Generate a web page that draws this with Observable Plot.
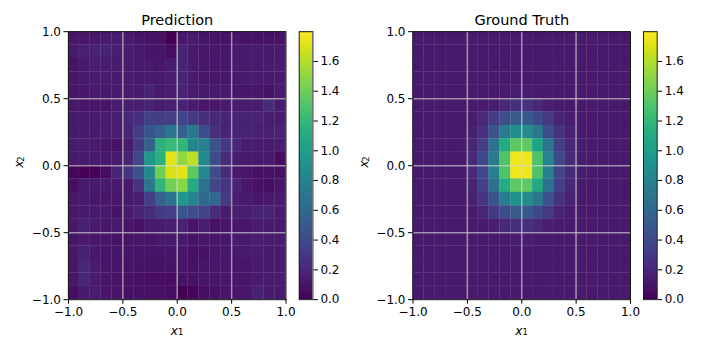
<!DOCTYPE html>
<html><head><meta charset="utf-8">
<script src="https://cdn.jsdelivr.net/npm/d3@7"></script>
<script src="https://cdn.jsdelivr.net/npm/@observablehq/plot@0.6"></script>
<style>
html,body{margin:0;padding:0;background:#fff}
#fig{position:relative;width:702px;height:351px;overflow:hidden;background:#fff}
#fig svg{position:absolute;top:0;overflow:visible;background:transparent}
</style></head><body><div id="fig"></div>
<script>
const predictionValues = [
[.10,.11,.11,.13,.14,.12,.10,.09,.08,.00,.11,.13,.10,.09,.09,.10,.09,.09,.08,.09],
[.12,.16,.17,.17,.15,.13,.12,.10,.10,.06,.18,.12,.11,.11,.11,.13,.13,.13,.12,.13],
[.09,.12,.14,.14,.13,.13,.12,.12,.11,.14,.18,.12,.11,.11,.11,.13,.13,.13,.13,.13],
[.10,.12,.13,.13,.13,.13,.12,.13,.12,.15,.18,.13,.11,.11,.11,.12,.13,.13,.12,.13],
[.10,.11,.12,.12,.12,.13,.13,.17,.12,.14,.17,.13,.12,.12,.12,.11,.11,.11,.09,.13],
[.11,.11,.10,.10,.13,.14,.15,.17,.14,.16,.17,.14,.11,.11,.13,.13,.13,.14,.22,.12],
[.12,.12,.13,.14,.14,.20,.25,.35,.32,.33,.36,.30,.24,.21,.18,.17,.17,.17,.15,.14],
[.12,.13,.13,.13,.14,.19,.32,.48,.55,.70,.55,.72,.42,.24,.18,.17,.17,.16,.16,.17],
[.12,.13,.13,.10,.09,.13,.30,.55,1.15,1.22,1.18,.82,.80,.45,.30,.20,.14,.13,.13,.14],
[.12,.13,.13,.12,.12,.18,.38,.95,1.15,1.72,1.50,1.62,.85,.42,.22,.14,.12,.12,.13,.06],
[.03,.02,.02,.06,.18,.28,.45,.85,1.40,1.70,1.72,1.35,.85,.42,.22,.12,.10,.08,.09,.08],
[.07,.12,.12,.13,.12,.12,.27,.70,1.18,1.42,1.48,1.10,.68,.38,.27,.18,.11,.08,.07,.10],
[.11,.12,.11,.11,.11,.12,.14,.33,.55,.68,.95,.82,.60,.60,.30,.15,.13,.11,.12,.12],
[.11,.12,.12,.12,.09,.13,.18,.22,.30,.33,.48,.42,.36,.22,.13,.15,.15,.17,.17,.13],
[.11,.16,.13,.11,.12,.10,.08,.13,.14,.15,.17,.10,.14,.09,.10,.11,.11,.14,.13,.12],
[.10,.13,.11,.10,.09,.09,.10,.10,.12,.12,.12,.09,.11,.11,.11,.13,.13,.15,.14,.12],
[.11,.16,.12,.10,.10,.10,.10,.10,.10,.10,.11,.08,.09,.10,.11,.12,.13,.14,.13,.12],
[.11,.19,.13,.10,.10,.09,.09,.09,.09,.09,.10,.08,.10,.11,.11,.11,.11,.13,.13,.12],
[.11,.19,.13,.10,.09,.09,.08,.07,.07,.07,.09,.08,.10,.10,.11,.11,.11,.13,.13,.12],
[.06,.12,.14,.10,.10,.08,.09,.08,.08,.06,.00,.02,.07,.08,.10,.11,.11,.17,.13,.12]
];
const groundTruthValues = [
[.12,.12,.12,.12,.12,.12,.12,.12,.12,.12,.12,.12,.12,.12,.12,.12,.12,.12,.12,.12],
[.12,.12,.12,.12,.12,.12,.12,.12,.12,.12,.12,.12,.12,.12,.12,.12,.12,.12,.12,.12],
[.12,.12,.12,.12,.12,.12,.12,.12,.12,.12,.12,.12,.12,.12,.12,.12,.12,.12,.12,.12],
[.12,.12,.12,.12,.12,.12,.12,.12,.12,.12,.12,.12,.12,.12,.12,.12,.12,.12,.12,.12],
[.12,.12,.12,.12,.12,.12,.12,.12,.13,.14,.14,.13,.12,.12,.12,.12,.12,.12,.12,.12],
[.12,.12,.12,.12,.12,.12,.13,.15,.20,.24,.26,.20,.15,.13,.12,.12,.12,.12,.12,.12],
[.12,.12,.12,.12,.12,.13,.20,.32,.42,.50,.50,.40,.30,.18,.14,.12,.12,.12,.12,.12],
[.12,.12,.12,.12,.12,.16,.26,.45,.75,.88,.88,.72,.42,.26,.17,.13,.12,.12,.12,.12],
[.12,.12,.12,.12,.13,.18,.33,.68,1.10,1.35,1.35,1.05,.70,.33,.20,.14,.12,.12,.12,.12],
[.12,.12,.12,.12,.13,.20,.38,.75,1.30,1.76,1.76,1.30,.80,.40,.22,.15,.12,.12,.12,.12],
[.12,.12,.12,.12,.13,.20,.38,.78,1.30,1.76,1.76,1.30,.78,.38,.22,.15,.12,.12,.12,.12],
[.12,.12,.12,.12,.12,.18,.34,.68,1.10,1.35,1.35,1.08,.68,.34,.20,.13,.12,.12,.12,.12],
[.12,.12,.12,.12,.12,.16,.28,.46,.75,.90,.88,.72,.44,.26,.17,.12,.12,.12,.12,.12],
[.12,.12,.12,.12,.12,.13,.19,.30,.42,.50,.50,.40,.30,.18,.13,.12,.12,.12,.12,.12],
[.12,.12,.12,.12,.12,.12,.13,.15,.20,.25,.25,.20,.15,.13,.12,.12,.12,.12,.12,.12],
[.12,.12,.12,.12,.12,.12,.12,.12,.13,.14,.14,.13,.12,.12,.12,.12,.12,.12,.12,.12],
[.12,.12,.12,.12,.12,.12,.12,.12,.12,.12,.12,.12,.12,.12,.12,.12,.12,.12,.12,.12],
[.12,.12,.12,.12,.12,.12,.12,.12,.12,.12,.12,.12,.12,.12,.12,.12,.12,.12,.12,.12],
[.12,.12,.12,.12,.12,.12,.12,.12,.12,.12,.12,.12,.12,.12,.12,.12,.12,.12,.12,.12],
[.12,.12,.12,.12,.12,.12,.12,.12,.12,.12,.12,.12,.12,.12,.12,.12,.12,.12,.12,.12]
];
const axisTicks = [-1, -0.5, 0, 0.5, 1];
const gridTicks = [-0.5, 0, 0.5];
const colorTicks = [0, 0.2, 0.4, 0.6, 0.8, 1.0, 1.2, 1.4, 1.6];
const colorMax = 1.8;

const FONT = "'DejaVu Sans'";
const fmt = d => d.toFixed(1).replace("-", "\u2212");
const fig = document.getElementById("fig");
const color = {type: "linear", scheme: "viridis", domain: [0, colorMax]};
const frameTop = 31.2, frameBottom = 299.2, H = 351;

function cellsOf(values) {
  const out = [];
  values.forEach((row, r) => row.forEach((v, c) => out.push({
    x1: -1 + c * 0.1, x2: -1 + (c + 1) * 0.1,
    y1: 1 - r * 0.1, y2: 1 - (r + 1) * 0.1, v
  })));
  return out;
}

function panel(values, title, left, frameL, frameR) {
  const W = frameR - left + 10;
  const p = Plot.plot({
    width: W, height: H,
    marginLeft: frameL - left, marginRight: W - (frameR - left), marginTop: frameTop, marginBottom: H - frameBottom,
    x: {domain: [-1, 1]}, y: {domain: [-1, 1]}, color,
    style: {fontFamily: FONT, fontSize: "12px", color: "#000", background: "transparent", overflow: "visible"},
    marks: [
      Plot.rect(cellsOf(values), {x1: "x1", x2: "x2", y1: "y1", y2: "y2", fill: "v", stroke: "v", strokeWidth: 0.3}),
      Plot.ruleX(gridTicks, {stroke: "#d8d8d8", strokeOpacity: 0.6, strokeWidth: 1.5}),
      Plot.ruleY(gridTicks, {stroke: "#d8d8d8", strokeOpacity: 0.6, strokeWidth: 1.5}),
      Plot.frame({stroke: "#1a1a1a", strokeWidth: 1}),
      Plot.axisX(axisTicks, {anchor: "bottom", label: null, tickSize: 4.5, tickPadding: 3, tickFormat: fmt, strokeWidth: 1, strokeOpacity: 1, stroke: "#000", fill: "#000"}),
      Plot.axisY(axisTicks, {anchor: "left", label: null, tickSize: 4.5, tickPadding: 3, tickFormat: fmt, strokeWidth: 1, strokeOpacity: 1, stroke: "#000", fill: "#000"}),
      Plot.text([title], {frameAnchor: "top", dy: -11, fontSize: 14.5, fill: "#000", textAnchor: "middle", lineAnchor: "middle", text: d => d}),
      Plot.text(["x"], {frameAnchor: "bottom", dy: 31, dx: -3, fontStyle: "italic", fontSize: 12, fill: "#000", text: d => d, lineAnchor: "middle"}),
      Plot.text(["1"], {frameAnchor: "bottom", dy: 33, dx: 3.5, fontSize: 8.4, fill: "#000", text: d => d, lineAnchor: "middle"}),
      Plot.text(["x"], {frameAnchor: "left", dx: -49, dy: 2, rotate: -90, fontStyle: "italic", fontSize: 12, fill: "#000", text: d => d}),
      Plot.text(["2"], {frameAnchor: "left", dx: -47, dy: -4, rotate: -90, fontSize: 8.4, fill: "#000", text: d => d})
    ]
  });
  p.style.left = left + "px";
  fig.appendChild(p);
}

function colorbar(left, frameL, frameR) {
  const levels = d3.range(0, 256).map(i => ({a: i / 256 * colorMax, b: (i + 1) / 256 * colorMax}));
  const W = frameR - left + 30;
  const p = Plot.plot({
    width: W, height: H,
    marginLeft: frameL - left, marginRight: W - (frameR - left), marginTop: frameTop, marginBottom: H - frameBottom,
    x: {domain: [0, 1], axis: null}, y: {domain: [0, colorMax]}, color,
    style: {fontFamily: FONT, fontSize: "12px", color: "#000", background: "transparent", overflow: "visible"},
    marks: [
      Plot.rect(levels, {x1: 0, x2: 1, y1: "a", y2: "b", fill: d => (d.a + d.b) / 2, shapeRendering: "crispEdges"}),
      Plot.frame({stroke: "#1a1a1a", strokeWidth: 1}),
      Plot.axisY(colorTicks, {anchor: "right", label: null, tickSize: 4.5, tickPadding: 3, tickFormat: fmt, strokeWidth: 1, strokeOpacity: 1, stroke: "#000", fill: "#000"})
    ]
  });
  p.style.left = left + "px";
  fig.appendChild(p);
}

panel(predictionValues, "Prediction", 0, 68, 285.5);
colorbar(292, 298.7, 312.4);
panel(groundTruthValues, "Ground Truth", 344, 412.5, 630);
colorbar(636, 643, 656.7);
</script></body></html>
